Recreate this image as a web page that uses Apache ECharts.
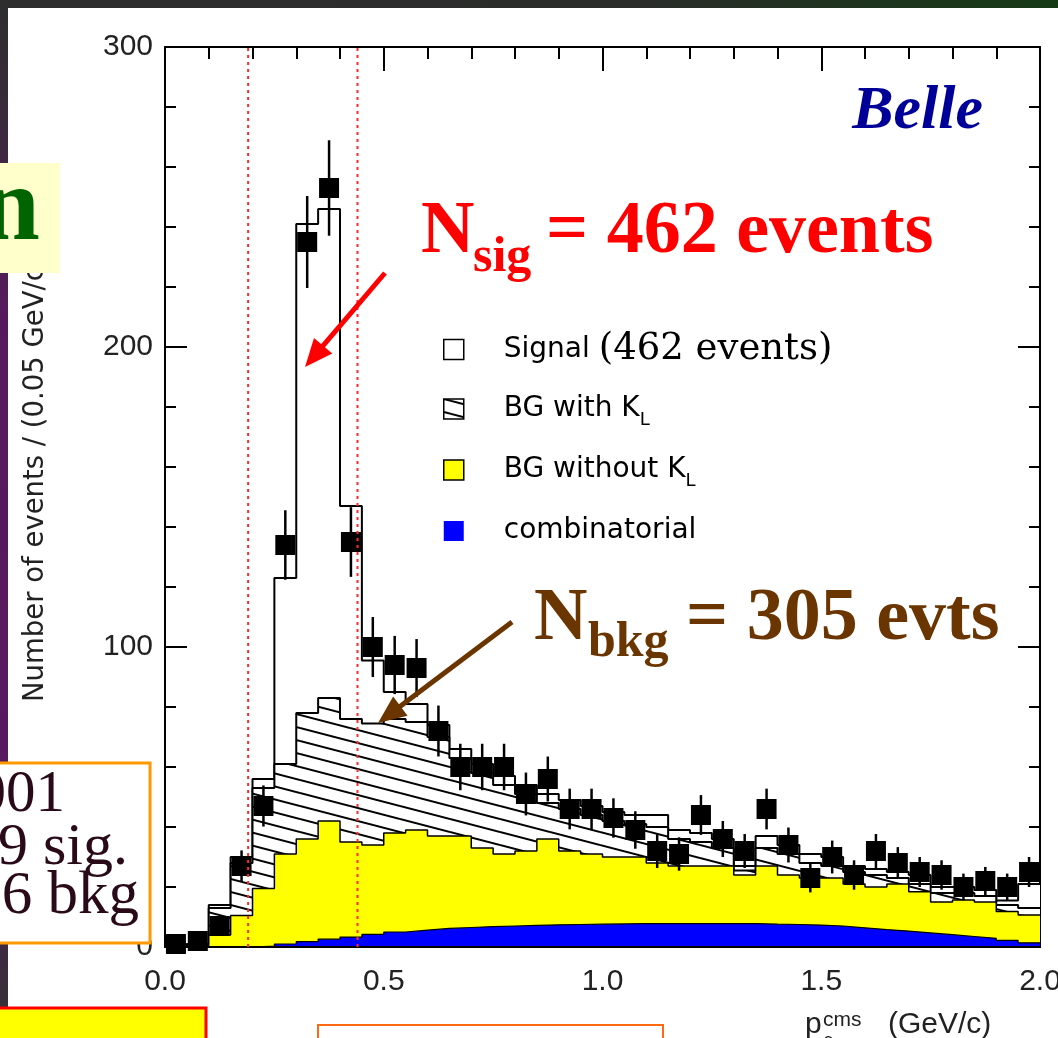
<!DOCTYPE html>
<html>
<head>
<meta charset="utf-8">
<script src="https://cdn.jsdelivr.net/npm/echarts@6/dist/echarts.min.js"></script>
<style>
  html, body { margin: 0; padding: 0; background: #ffffff; }
  #chart { width: 1058px; height: 1038px; }
</style>
</head>
<body>
<div id="chart"></div>
<script>
// p_rho^cms spectrum, 40 bins of 0.05 GeV/c between 0 and 2.0 GeV/c
const binWidth = 0.05;

// stacked MC components, events per bin (bottom to top)
const combinatorial = [0, 0, 0, 0, 0.3, 1, 1.8, 2.6, 3.3, 4.2, 5, 5.6, 6.2, 6.5, 6.8, 7, 7.2, 7.4, 7.5, 7.6,
                       7.7, 7.8, 7.8, 7.8, 7.8, 7.8, 7.8, 7.6, 7.5, 7.3, 7.0, 6.4, 5.8, 5.3, 4.7, 4.1, 3.5, 2.9, 2.2, 1.4];
const bgWithoutKL = [0, 0.5, 4, 10.5, 19.2, 30, 34.2, 39.4, 31.7, 29.8, 33, 33.4, 30.8, 30.5, 26.2, 24, 24.8, 28.6, 24.5, 23.4,
                     22.3, 22.2, 20.2, 19.2, 19.2, 19.2, 16.2, 19.4, 16.5, 15.7, 16, 14.6, 14.2, 15.7, 13.7, 10.9, 12.2, 12.1, 9.6, 9.3];
const bgWithKL = [0, 0.5, 9, 17.5, 33.5, 30, 42, 41, 41, 40.5, 38, 36, 33, 26, 25, 23, 19, 12, 14, 13,
                  12, 11, 12, 9, 8, 6, 1.5, 6, 7, 5, 4, 4, 4, 2, 2.6, 3, 2.3, 2, 2.2, 2.3];
const signal = [0, 0, 1, 2, 3, 62, 163, 163, 71, 21, 9, 6, 4, 3, 3, 3, 3, 3, 3, 3,
                3, 3, 4, 3, 3, 3, 1.5, 4, 3, 3, 3, 2, 2, 2, 3, 2, 2, 2, 1.5, 8];

// observed events per bin
const dataCounts = [1, 2, 7, 27, 47, 134, 235, 253, 135, 100, 94, 93, 72, 60, 60, 60, 51, 56, 46, 46,
                    43, 39, 32, 31, 44, 36, 32, 46, 34, 23, 30, 24, 32, 28, 25, 24, 20, 22, 20, 25];

// signal-window cut positions (GeV/c)
const cutLines = [0.19, 0.44];

const seriesNames = ['Signal', 'BG with K_L', 'BG without K_L', 'combinatorial'];
const legendLabels = {
  'Signal': '{f|Signal}{t|(462 events)}',
  'BG with K_L': '{f|BG with K}{s|L}',
  'BG without K_L': '{f|BG without K}{s|L}',
  'combinatorial': '{f|combinatorial}'
};

// cumulative levels for the stacked step histograms
const lvlComb = combinatorial.slice();
const lvlNoKL = lvlComb.map((v, i) => v + bgWithoutKL[i]);
const lvlKL = lvlNoKL.map((v, i) => v + bgWithKL[i]);
const lvlTotal = lvlKL.map((v, i) => v + signal[i]);

function stepPoints(levels) {
  const pts = levels.map((v, i) => [+(i * binWidth).toFixed(3), v]);
  pts.push([+(levels.length * binWidth).toFixed(3), levels[levels.length - 1]]);
  return pts;
}

// diagonal line hatching for the K_L background
function makeHatchTile() {
  const w = 50, h = 13;
  const c = document.createElement('canvas');
  c.width = w; c.height = h;
  const g = c.getContext('2d');
  g.fillStyle = '#ffffff';
  g.fillRect(0, 0, w, h);
  g.strokeStyle = '#000000';
  g.lineWidth = 2;
  [-h, 0, h].forEach(dy => {
    g.beginPath();
    g.moveTo(0, dy);
    g.lineTo(w, dy + h);
    g.stroke();
  });
  return c;
}
const hatch = { image: makeHatchTile(), repeat: 'repeat' };

function histSeries(name, levels, fill, lineWidth, z) {
  return {
    type: 'line', name: name, data: stepPoints(levels), step: 'end',
    symbol: 'none', showSymbol: false, z: z, silent: true,
    lineStyle: { color: '#000', width: lineWidth },
    areaStyle: { color: fill, opacity: 1 },
    itemStyle: { color: fill },
    emphasis: { disabled: true }
  };
}

function arrowElements(x1, y1, x2, y2, color, width, headLen, headHalf) {
  const dx = x2 - x1, dy = y2 - y1, len = Math.hypot(dx, dy);
  const ux = dx / len, uy = dy / len, nx = -uy, ny = ux;
  const bx = x2 - ux * headLen, by = y2 - uy * headLen;
  return [
    { type: 'line', z: 110, shape: { x1: x1, y1: y1, x2: bx + ux * 3, y2: by + uy * 3 },
      style: { stroke: color, lineWidth: width } },
    { type: 'polygon', z: 110,
      shape: { points: [[x2, y2], [bx + nx * headHalf, by + ny * headHalf], [bx - nx * headHalf, by - ny * headHalf]] },
      style: { fill: color } }
  ];
}

function txt(text, x, y, o) {
  return {
    type: 'text', x: x, y: y, z: o.z || 110, rotation: o.rotation || 0,
    style: {
      text: text, fill: o.color || '#000',
      fontSize: o.size, fontFamily: o.family || 'Liberation Serif',
      fontWeight: o.weight || 'normal', fontStyle: o.style || 'normal',
      align: o.align || 'left', verticalAlign: 'middle',
      textAlign: o.align || 'left', textVerticalAlign: 'middle'
    }
  };
}

const axisFont = { fontFamily: 'Liberation Sans', fontSize: 30, color: '#222' };
const tickLine = { color: '#000', width: 2 };

const overlays = [
  // slide frame strips
  { type: 'rect', z: 100, shape: { x: 0, y: 0, width: 1058, height: 8 },
    style: { fill: new echarts.graphic.LinearGradient(0, 0, 1, 0, [
      { offset: 0, color: '#2d2d2d' }, { offset: 0.6, color: '#2a2c2a' }, { offset: 1, color: '#163a16' }]) } },
  { type: 'rect', z: 100, shape: { x: 0, y: 0, width: 8, height: 1038 },
    style: { fill: new echarts.graphic.LinearGradient(0, 0, 0, 1, [
      { offset: 0, color: '#2e2e2e' }, { offset: 0.12, color: '#3a2a3c' }, { offset: 0.3, color: '#561a5c' },
      { offset: 0.72, color: '#581860' }, { offset: 0.92, color: '#3d2a40' }, { offset: 1, color: '#333333' }]) } },
  // title fragment box
  { type: 'rect', z: 101, shape: { x: 0, y: 163, width: 60, height: 110 }, style: { fill: '#ffffcc' } },
  txt('n', 40, 212, { size: 105, weight: 'bold', color: '#006400', align: 'right', z: 102 }),
  // side note box
  { type: 'rect', z: 101, shape: { x: -3, y: 763, width: 153, height: 180 },
    style: { fill: '#ffffff', stroke: '#ff9900', lineWidth: 3 } },
  txt('2001', 65, 795, { size: 59, color: '#2a0a18', align: 'right', z: 102 }),
  txt('29 sig.', 128, 848, { size: 60, color: '#2a0a18', align: 'right', z: 102 }),
  txt('56 bkg', 139, 897, { size: 61, color: '#2a0a18', align: 'right', z: 102 }),
  // lower slide boxes
  { type: 'rect', z: 101, shape: { x: -3, y: 1008, width: 209, height: 40 },
    style: { fill: '#ffff00', stroke: '#ff0000', lineWidth: 3 } },
  { type: 'rect', z: 101, shape: { x: 318, y: 1025, width: 345, height: 30 },
    style: { fill: '#ffffff', stroke: '#ff6a10', lineWidth: 2 } },
  // experiment tag
  txt('Belle', 983, 112, { size: 62, weight: 'bold', style: 'italic', color: '#000099', align: 'right' }),
  // yield annotations
  txt('N', 421, 233, { size: 74, weight: 'bold', color: '#ff0000' }),
  txt('sig', 473, 258, { size: 50, weight: 'bold', color: '#ff0000' }),
  txt('= 462 events', 546, 233, { size: 74, weight: 'bold', color: '#ff0000' }),
  txt('N', 534, 620, { size: 74, weight: 'bold', color: '#6b3500' }),
  txt('bkg', 588, 643, { size: 50, weight: 'bold', color: '#6b3500' }),
  txt('= 305 evts', 686, 620, { size: 74, weight: 'bold', color: '#6b3500' }),
  ...arrowElements(385, 273, 305, 367, '#ff0000', 5, 28, 12),
  ...arrowElements(512, 622, 378, 723, '#6b3500', 5, 28, 12),
  // axis titles
  txt('Number of events / (0.05 GeV/c)', 36, 702,
      { size: 27.5, family: 'DejaVu Sans', color: '#222', rotation: Math.PI / 2, z: 50 }),
  txt('p', 805, 1025, { size: 30, family: 'Liberation Sans', color: '#222', z: 50 }),
  txt('cms', 823, 1020, { size: 21, family: 'Liberation Sans', color: '#222', z: 50 }),
  txt('\u03c1', 823, 1041, { size: 19, family: 'Liberation Sans', color: '#222', z: 50 }),
  txt('(GeV/c)', 888, 1025, { size: 30, family: 'Liberation Sans', color: '#222', z: 50 })
];

const chart = echarts.init(document.getElementById('chart'), null, { renderer: 'canvas', width: 1058, height: 1038 });

chart.setOption({
  animation: false,
  textStyle: { fontFamily: 'Liberation Sans' },
  grid: { left: 165, top: 47, width: 875, height: 900, containLabel: false, outerBoundsMode: 'none', show: false },
  xAxis: [
    {
      type: 'value', position: 'bottom', min: 0, max: 2, interval: 0.5, z: 6,
      axisLine: { show: true, onZero: false, lineStyle: tickLine },
      axisTick: { show: false }, minorTick: { show: false }, splitLine: { show: false },
      axisLabel: Object.assign({ margin: 20, formatter: v => v.toFixed(1) }, axisFont)
    },
    {
      type: 'value', position: 'top', min: 0, max: 2, interval: 0.5,
      axisLine: { show: true, onZero: false, lineStyle: tickLine },
      axisTick: { show: true, inside: true, length: 24, lineStyle: tickLine },
      minorTick: { show: true, splitNumber: 5, length: 12, lineStyle: tickLine },
      axisLabel: { show: false }, splitLine: { show: false }
    }
  ],
  yAxis: [
    {
      type: 'value', position: 'left', min: 0, max: 300, interval: 100,
      axisLine: { show: true, onZero: false, lineStyle: tickLine },
      axisTick: { show: true, inside: true, length: 22, lineStyle: tickLine },
      minorTick: { show: true, splitNumber: 5, length: 11, lineStyle: tickLine },
      splitLine: { show: false },
      axisLabel: Object.assign({ margin: 12 }, axisFont)
    },
    {
      type: 'value', position: 'right', min: 0, max: 300, interval: 100,
      axisLine: { show: true, onZero: false, lineStyle: tickLine },
      axisTick: { show: true, inside: true, length: 22, lineStyle: tickLine },
      minorTick: { show: true, splitNumber: 5, length: 11, lineStyle: tickLine },
      splitLine: { show: false }, axisLabel: { show: false }
    }
  ],
  legend: {
    orient: 'vertical', left: 443, top: 331, padding: 0,
    itemWidth: 20, itemHeight: 20, itemGap: 27, selectedMode: false,
    data: [
      { name: seriesNames[0], icon: 'rect', itemStyle: { color: '#ffffff', borderColor: '#000', borderWidth: 1.5 } },
      { name: seriesNames[1], icon: 'rect', itemStyle: { color: hatch, borderColor: '#000', borderWidth: 1.5 } },
      { name: seriesNames[2], icon: 'rect', itemStyle: { color: '#ffff00', borderColor: '#000', borderWidth: 1.5 } },
      { name: seriesNames[3], icon: 'rect', itemStyle: { color: '#0000ff', borderWidth: 0 } }
    ],
    formatter: name => legendLabels[name],
    textStyle: {
      color: '#000',
      rich: {
        f: { fontFamily: 'DejaVu Sans', fontSize: 28, lineHeight: 40, verticalAlign: 'middle', padding: [0, 0, 0, 35], color: '#000' },
        t: { fontFamily: 'DejaVu Serif', fontSize: 37, lineHeight: 40, verticalAlign: 'middle', padding: [0, 0, 0, 9], color: '#000' },
        s: { fontFamily: 'DejaVu Sans', fontSize: 18, lineHeight: 20, verticalAlign: 'bottom', color: '#000' }
      }
    }
  },
  graphic: { elements: overlays },
  series: [
    histSeries(seriesNames[0], lvlTotal, '#ffffff', 2, 2),
    histSeries(seriesNames[1], lvlKL, hatch, 2, 3),
    histSeries(seriesNames[2], lvlNoKL, '#ffff00', 1.5, 4),
    histSeries(seriesNames[3], lvlComb, '#0000ff', 1.2, 5),
    {
      // data points with Poisson error bars
      type: 'custom', name: 'Data', z: 8, clip: false, silent: true,
      data: dataCounts.map((n, i) => [(i + 0.5) * binWidth, n, Math.sqrt(n)]),
      encode: { x: 0, y: 1 },
      renderItem: function (params, api) {
        const x = api.value(0), n = api.value(1), e = api.value(2);
        const p = api.coord([x, n]);
        const hi = api.coord([x, n + e]);
        const lo = api.coord([x, Math.max(n - e, 0)]);
        return {
          type: 'group',
          children: [
            { type: 'line', shape: { x1: p[0], y1: hi[1], x2: p[0], y2: lo[1] }, style: { stroke: '#000', lineWidth: 2.5 } },
            { type: 'rect', shape: { x: p[0] - 10, y: p[1] - 10, width: 20, height: 20 }, style: { fill: '#000' } }
          ]
        };
      }
    },
    {
      // cut window boundaries
      type: 'custom', name: 'cuts', z: 10, silent: true,
      data: cutLines.map(x => [x, 0]),
      encode: { x: 0, y: 1 },
      renderItem: function (params, api) {
        const x = api.value(0);
        const a = api.coord([x, 0]);
        const b = api.coord([x, 300]);
        return { type: 'line', shape: { x1: a[0], y1: a[1], x2: b[0], y2: b[1] },
                 style: { stroke: '#ff2a2a', lineWidth: 2, lineDash: [3, 4] } };
      }
    }
  ]
});
</script>
</body>
</html>
